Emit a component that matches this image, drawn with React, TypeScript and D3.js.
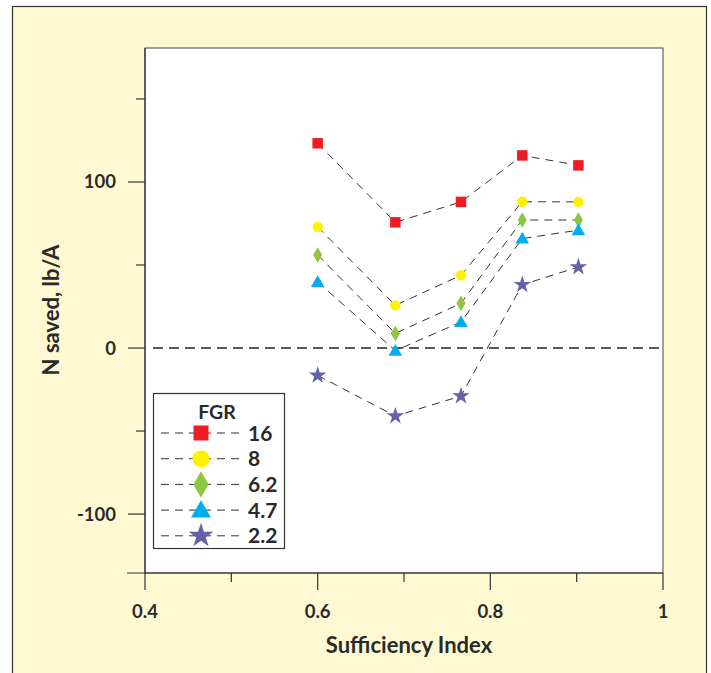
import React from "react";
import * as d3 from "d3";

const sufficiency = [0.6, 0.69, 0.766, 0.837, 0.902];
const fgrLabels = ["16", "8", "6.2", "4.7", "2.2"];
const saved16 = [123.3, 75.7, 88, 116, 110];
const saved8 = [72.9, 25.7, 43.8, 88.1, 88];
const saved62 = [56, 8.8, 26.9, 77.1, 77.1];
const saved47 = [39.8, -1.6, 15.7, 65.9, 71];
const saved22 = [-16.5, -41, -28.9, 38.1, 48.8];
const xTicks = [0.4, 0.6, 0.8, 1];
const xMinor = [0.5, 0.7, 0.9];
const yTicks = [-100, 0, 100];
const yMinor = [-50, 50, 150];

const seriesValues = [saved16, saved8, saved62, saved47, saved22];
const colors = ["#ED1C24", "#FFF200", "#8DC63F", "#00AEEF", "#6460AA"];
const symbols = [d3.symbolSquare, d3.symbolCircle, d3.symbolDiamond, d3.symbolTriangle, d3.symbolStar];
const plotSizes = [110, 85, 70, 80, 95];
const legendSizes = [225, 230, 200, 170, 190];

const FONT = "Lato, 'Open Sans', sans-serif";

export default function App() {
  const left = 145, right = 663, top = 48, bottom = 573;
  const x = d3.scaleLinear().domain([0.4, 1]).range([left, right]);
  const y = d3.scaleLinear().domain([-135.5, 180.7]).range([bottom, top]);
  const line = d3.line<number>().x((_, i) => x(sufficiency[i])).y((v) => y(v));
  const sym = (i: number, s: number) => d3.symbol().type(symbols[i]).size(s)()!;
  const triOffset = (i: number, s: number) => (i === 3 ? Math.sqrt(s) * 0.12 : 0);

  const legX = 153, legY = 393, legW = 131, legH = 155;
  const rowY = (i: number) => 433 + i * 25.7;

  return (
    <svg width={711} height={673} style={{ position: "absolute", left: 0, top: 0 }} fontFamily={FONT}>
      <rect x={0} y={0} width={711} height={673} fill="#ffffff" />
      <rect x={12.5} y={6.5} width={694} height={700} fill="#FFF9D3" stroke="#333" strokeWidth={1.2} />
      <rect x={left} y={top} width={right - left} height={bottom - top} fill="#ffffff" stroke="#444" strokeWidth={1} />
      {/* axes */}
      <line x1={127} x2={right} y1={bottom} y2={bottom} stroke="#333" strokeWidth={1.2} />
      <line x1={left} x2={left} y1={top} y2={bottom} stroke="#333" strokeWidth={1.2} />
      {xTicks.map((t) => (
        <g key={"xt" + t}>
          <line x1={x(t)} x2={x(t)} y1={bottom} y2={bottom + 17} stroke="#333" strokeWidth={1.2} />
          <text x={x(t)} y={bottom + 45} textAnchor="middle" fontSize={18.5} fontWeight={700} fill="#2a2a2a">{t}</text>
        </g>
      ))}
      {xMinor.map((t) => (
        <line key={"xm" + t} x1={x(t)} x2={x(t)} y1={bottom} y2={bottom + 9} stroke="#333" strokeWidth={1.2} />
      ))}
      {yTicks.map((t) => (
        <g key={"yt" + t}>
          <line x1={left - 17} x2={left} y1={y(t)} y2={y(t)} stroke="#333" strokeWidth={1.2} />
          <text x={left - 29} y={y(t) + 6.5} textAnchor="end" fontSize={18.5} fontWeight={700} fill="#2a2a2a">{t}</text>
        </g>
      ))}
      {yMinor.map((t) => (
        <line key={"ym" + t} x1={left - 9} x2={left} y1={y(t)} y2={y(t)} stroke="#333" strokeWidth={1.2} />
      ))}
      <text x={409} y={653} textAnchor="middle" fontSize={22} fontWeight={700} fill="#2a2a2a">Sufficiency Index</text>
      <text transform="translate(59, 310) rotate(-90)" textAnchor="middle" fontSize={22} fontWeight={700} fill="#2a2a2a">N saved, lb/A</text>
      {/* zero line */}
      <line x1={left + 8} x2={right} y1={y(0)} y2={y(0)} stroke="#222" strokeWidth={1.6} strokeDasharray="10,6" />
      {/* series lines */}
      {seriesValues.map((vals, i) => (
        <path key={"l" + i} d={line(vals)!} fill="none" stroke="#333" strokeWidth={1} strokeDasharray="8,6" />
      ))}
      {seriesValues.map((vals, i) =>
        vals.map((v, j) => (
          <path key={"m" + i + "-" + j} d={sym(i, plotSizes[i])} transform={`translate(${x(sufficiency[j])}, ${y(v) + triOffset(i, plotSizes[i])})`} fill={colors[i]} />
        ))
      )}
      {/* legend */}
      <rect x={legX + 0.5} y={legY + 0.5} width={legW} height={legH} fill="#ffffff" stroke="#333" strokeWidth={1.2} />
      <text x={217} y={419} textAnchor="middle" fontSize={19.5} fontWeight={700} fill="#2a2a2a">FGR</text>
      {fgrLabels.map((lab, i) => (
        <g key={"lg" + i}>
          <line x1={161} x2={240} y1={rowY(i)} y2={rowY(i)} stroke="#333" strokeWidth={1} strokeDasharray="8,6" />
          <path d={sym(i, legendSizes[i])} transform={`translate(201, ${rowY(i) + triOffset(i, legendSizes[i])})`} fill={colors[i]} />
          <text x={248} y={rowY(i) + 7.5} fontSize={21} fontWeight={700} fill="#2a2a2a">{lab}</text>
        </g>
      ))}
    </svg>
  );
}
